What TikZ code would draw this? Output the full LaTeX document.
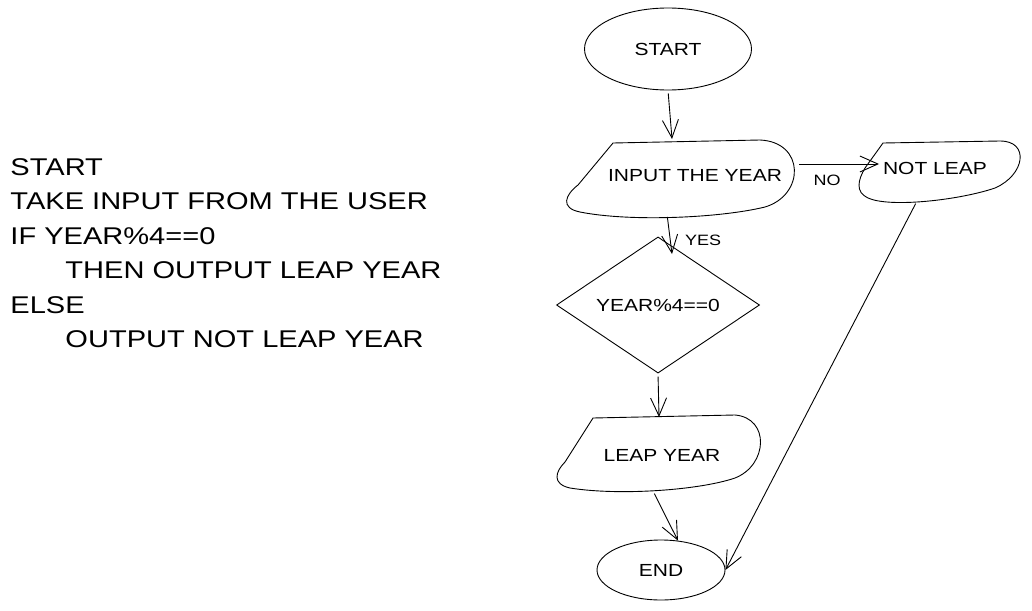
\documentclass[tikz,border=0pt]{standalone}
\usepackage{fontspec}
\newfontfamily\sketchfont[FakeStretch=1.2]{Liberation Sans}
\usetikzlibrary{shapes.geometric,arrows.meta}
\begin{document}
\begin{tikzpicture}[x=1pt,y=-1pt,line width=0.9pt,
  every node/.style={font=\sketchfont\fontsize{17.5}{21}\selectfont,inner sep=0pt},
  terminal/.style={draw,ellipse},
  decision/.style={draw,diamond},
  link/.style={-{Straight Barb[length=18pt,width=16pt]},shorten <=3pt},
  code/.style={anchor=base west,font=\sketchfont\fontsize{24.2}{30}\selectfont},
  tag/.style={font=\sketchfont\fontsize{15}{18}\selectfont}]
\useasboundingbox (0,0) rectangle (1032,610);
% pseudo-code
\foreach \xx/\txt [count=\i] in {10/START,10/TAKE INPUT FROM THE USER,10/IF YEAR\%4==0,
  65/THEN OUTPUT LEAP YEAR,10/ELSE,65/OUTPUT NOT LEAP YEAR}
  \node [code] (line\i) at (\xx,{175+34.5*(\i-1)}) {\txt};
% début et fin
\node [terminal,minimum width=167,minimum height=82] (start) at (668,49) {START};
\node [terminal,minimum width=128,minimum height=60] (finish) at (661,570) {END};
% test
\node [decision,minimum width=203,minimum height=117] (decision) at (658,305) {YEAR\%4==0};
% entrées / sorties
\draw (613,143) -- (760,140) .. controls (805,142) and (805,195) .. (765,207)
  .. controls (720,218) and (630,222) .. (580,212) .. controls (560,208) and (565,195) .. (578,185) -- cycle;
\node (input) at (695,176) {INPUT THE YEAR};
\draw (883,143) -- (1000,141) .. controls (1030,141) and (1025,175) .. (995,188)
  .. controls (960,200) and (890,208) .. (868,198) .. controls (855,192) and (858,180) .. (865,168) -- cycle;
\node (notleap) at (935,168) {NOT LEAP};
\draw (593,418) -- (735,415) .. controls (770,418) and (768,465) .. (735,478)
  .. controls (700,490) and (620,496) .. (570,488) .. controls (552,484) and (555,472) .. (565,462) -- cycle;
\node (leap) at (662,455) {LEAP YEAR};
% points d'attache
\coordinate (inTop) at (672,139);
\coordinate (inBot) at (667,214);
\coordinate (inRight) at (796,164);
\coordinate (decTop) at (672,254);
\coordinate (nlLeft) at (879,164);
\coordinate (nlBot) at (917,201);
\coordinate (lpTop) at (659,417);
\coordinate (lpBot) at (653,491);
% flèches
\draw [link] (start.south) -- (inTop);
\draw [link] (inBot) -- (decTop);
\node [tag] (yes) at (703,240) {YES};
\draw [link] (inRight) -- (nlLeft);
\node [tag] (no) at (827,180) {NO};
\draw [link] (decision.south) -- (lpTop);
\draw [link] (lpBot) -- (finish.60);
\draw [link] (nlBot) -- (finish.east);
\end{tikzpicture}
\end{document}
